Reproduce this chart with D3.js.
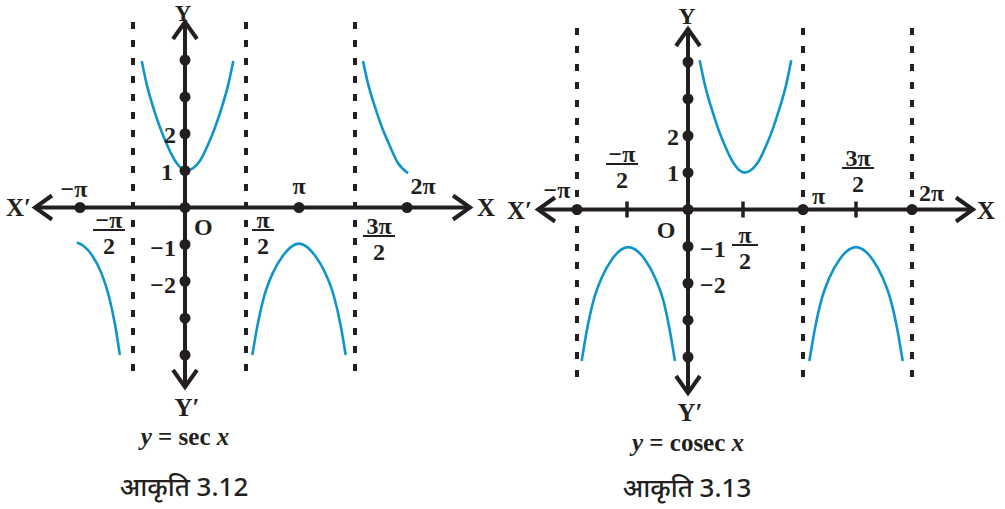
<!DOCTYPE html>
<html>
<head>
<meta charset="utf-8">
<script src="https://cdn.jsdelivr.net/npm/d3@7"></script>
<style>
  body { margin: 0; background: #fff; }
  svg text { font-family: "Liberation Serif", "Times New Roman", serif; font-weight: bold; fill: #231f20; }
  .cap { font-family: "Noto Sans", "DejaVu Sans", sans-serif; font-weight: 500; }
</style>
</head>
<body>
<svg id="chart" width="1005" height="509"></svg>
<script>
const piTicks = [-1, -0.5, 0, 0.5, 1, 1.5, 2];
const yDots = [-4, -3, -2, -1, 1, 2, 3, 4];

// y = sec x
const secXDots = [-1, 0, 1, 2];
const secAsymptotes = [-0.5, 0.5, 1.5];
const secBranches = [
  [[-0.416, 3.97], [-0.368, 3.34], [-0.305, 2.71], [-0.24, 2.17], [-0.176, 1.72], [-0.096, 1.27], [0.01, 1.0],
   [0.123, 1.27], [0.191, 1.72], [0.246, 2.17], [0.301, 2.71], [0.355, 3.34], [0.396, 3.97]],
  [[-1.03, -0.95], [-0.972, -1.03], [-0.885, -1.3], [-0.798, -1.78], [-0.726, -2.42], [-0.668, -3.2], [-0.624, -4.0]],
  [[0.56, -4.0], [0.608, -3.2], [0.67, -2.42], [0.749, -1.8], [0.843, -1.33], [1.0, -0.98],
   [1.149, -1.33], [1.238, -1.8], [1.313, -2.42], [1.372, -3.2], [1.417, -4.0]],
  [[1.577, 3.97], [1.627, 3.34], [1.694, 2.71], [1.76, 2.17], [1.827, 1.72], [1.91, 1.22], [2.01, 0.93]]
];

// y = cosec x
const cosecXDots = [-1, 0, 1, 2];
const cosecXTicks = [-0.5, 0.5, 1.5];
const cosecAsymptotes = [-1, 1, 2];
const cosecBranches = [
  [[0.106, 4.05], [0.152, 3.4], [0.212, 2.76], [0.273, 2.2], [0.334, 1.74], [0.409, 1.28], [0.51, 1.0],
   [0.625, 1.28], [0.694, 1.74], [0.75, 2.2], [0.806, 2.76], [0.861, 3.4], [0.902, 4.05]],
  [[-0.953, -4.11], [-0.903, -3.3], [-0.837, -2.49], [-0.753, -1.85], [-0.653, -1.36], [-0.49, -1.02],
   [-0.352, -1.36], [-0.27, -1.85], [-0.2, -2.49], [-0.148, -3.3], [-0.107, -4.11]],
  [[1.06, -4.11], [1.108, -3.3], [1.17, -2.49], [1.249, -1.85], [1.343, -1.36], [1.5, -1.02],
   [1.649, -1.36], [1.738, -1.85], [1.813, -2.49], [1.872, -3.3], [1.917, -4.11]]
];

const INK = "#231f20", BLUE = "#0f94cc";
const svg = d3.select("#chart");

function drawPanel(p) {
  const g = svg.append("g");
  // the axes in the book are hand drawn, so the scale is piecewise
  const x = d3.scaleLinear().domain(piTicks).range(p.xRange);
  const y = d3.scaleLinear().domain([-4, 4]).range(p.yRange);
  const x0 = x(0), y0 = y(0);

  // asymptotes
  g.selectAll(".asym").data(p.asymptotes).enter().append("line")
    .attr("x1", d => x(d)).attr("x2", d => x(d))
    .attr("y1", p.dashTop).attr("y2", p.dashBottom)
    .attr("stroke", INK).attr("stroke-width", 4)
    .attr("stroke-dasharray", "7 11");

  // curves
  const line = d3.line().x(d => x(d[0])).y(d => y(d[1])).curve(d3.curveMonotoneX);
  g.selectAll(".branch").data(p.branches).enter().append("path")
    .attr("d", line).attr("fill", "none")
    .attr("stroke", BLUE).attr("stroke-width", 2.6);

  // axes
  g.append("line").attr("x1", p.xLeft).attr("x2", p.xRight).attr("y1", y0).attr("y2", y0)
    .attr("stroke", INK).attr("stroke-width", 4);
  g.append("line").attr("x1", x0).attr("x2", x0).attr("y1", p.yTop).attr("y2", p.yBottom)
    .attr("stroke", INK).attr("stroke-width", 4);

  const a = 17, w = 12;
  const heads = [
    `M${p.xLeft + a},${y0 - w}L${p.xLeft},${y0}L${p.xLeft + a},${y0 + w}`,
    `M${p.xRight - a},${y0 - w}L${p.xRight},${y0}L${p.xRight - a},${y0 + w}`,
    `M${x0 - w},${p.yTop + a}L${x0},${p.yTop}L${x0 + w},${p.yTop + a}`,
    `M${x0 - w},${p.yBottom - a}L${x0},${p.yBottom}L${x0 + w},${p.yBottom - a}`
  ];
  g.selectAll(".head").data(heads).enter().append("path")
    .attr("d", d => d).attr("fill", "none").attr("stroke", INK)
    .attr("stroke-width", 4).attr("stroke-linejoin", "miter").attr("stroke-linecap", "butt");

  // small tick marks
  g.selectAll(".tick").data(p.xTicks).enter().append("line")
    .attr("x1", d => x(d)).attr("x2", d => x(d))
    .attr("y1", y0 - 8).attr("y2", y0 + 8)
    .attr("stroke", INK).attr("stroke-width", 3.5);

  // dots
  g.selectAll(".xdot").data(p.xDots).enter().append("circle")
    .attr("cx", d => x(d)).attr("cy", y0).attr("r", 5.5).attr("fill", INK);
  g.selectAll(".ydot").data(yDots).enter().append("circle")
    .attr("cx", x0).attr("cy", d => y(d)).attr("r", 5.5).attr("fill", INK);

  // text labels
  g.selectAll(".lbl").data(p.labels).enter().append("text")
    .attr("x", d => d[1]).attr("y", d => d[2])
    .attr("text-anchor", d => d[3] || "middle")
    .attr("font-size", d => d[4] || 24)
    .text(d => d[0]);

  // fractions
  p.fractions.forEach(f => {
    const [num, cx, bar, half] = f;
    g.append("text").attr("x", cx).attr("y", bar - 2).attr("text-anchor", "middle")
      .attr("font-size", 24).text(num);
    g.append("line").attr("x1", cx - half).attr("x2", cx + half).attr("y1", bar).attr("y2", bar)
      .attr("stroke", INK).attr("stroke-width", 2);
    g.append("text").attr("x", cx).attr("y", bar + 24).attr("text-anchor", "middle")
      .attr("font-size", 24).text("2");
  });

  // caption line "y = sec x"
  const t = g.append("text").attr("x", x0).attr("y", p.eqY).attr("text-anchor", "middle")
    .attr("font-size", 25);
  t.append("tspan").attr("font-style", "italic").text("y");
  t.append("tspan").text(" = " + p.fn + " ");
  t.append("tspan").attr("font-style", "italic").text("x");

  g.append("text").attr("class", "cap").attr("x", x0 - 1).attr("y", p.capY)
    .attr("text-anchor", "middle").attr("font-size", 26).text(p.caption);
}

drawPanel({
  xRange: [80, 133, 185, 246, 299, 355, 407],
  yRange: [355, 60],
  xLeft: 35, xRight: 470, yTop: 22, yBottom: 387,
  dashTop: 22, dashBottom: 382,
  asymptotes: secAsymptotes, branches: secBranches,
  xDots: secXDots, xTicks: [],
  labels: [
    ["Y", 183, 21, "middle", 23], ["Y\u2032", 187, 416, "middle", 25],
    ["X\u2032", 6, 216, "start", 25], ["X", 477, 216, "start", 25],
    ["\u2212\u03c0", 74, 197], ["\u03c0", 299, 194], ["2\u03c0", 423, 194],
    ["1", 173, 180, "end"], ["2", 176, 143, "end"],
    ["\u22121", 176, 256, "end"], ["\u22122", 176, 293, "end"],
    ["O", 194, 235, "start"]
  ],
  fractions: [["\u2212\u03c0", 109, 230, 16], ["\u03c0", 263, 230, 11], ["3\u03c0", 379, 236, 16]],
  fn: "sec", eqY: 445,
  caption: "\u0906\u0915\u0943\u0924\u093f 3.12", capY: 496
});

drawPanel({
  xRange: [577, 627, 688, 743, 803, 856, 912],
  yRange: [357, 62],
  xLeft: 538, xRight: 973, yTop: 29, yBottom: 393,
  dashTop: 28, dashBottom: 387,
  asymptotes: cosecAsymptotes, branches: cosecBranches,
  xDots: cosecXDots, xTicks: cosecXTicks,
  labels: [
    ["Y", 687, 24, "middle", 24], ["Y\u2032", 690, 421, "middle", 25],
    ["X\u2032", 507, 219, "start", 25], ["X", 977, 219, "start", 25],
    ["\u2212\u03c0", 557, 198], ["\u03c0", 812, 204, "start"], ["2\u03c0", 919, 201, "start"],
    ["1", 679, 181, "end"], ["2", 679, 145, "end"],
    ["\u22121", 700, 257, "start"], ["\u22122", 700, 293, "start"],
    ["O", 666, 238]
  ],
  fractions: [["\u2212\u03c0", 622, 164, 16], ["\u03c0", 745, 245, 13], ["3\u03c0", 858, 168, 16]],
  fn: "cosec", eqY: 451,
  caption: "\u0906\u0915\u0943\u0924\u093f 3.13", capY: 497
});
</script>
</body>
</html>
